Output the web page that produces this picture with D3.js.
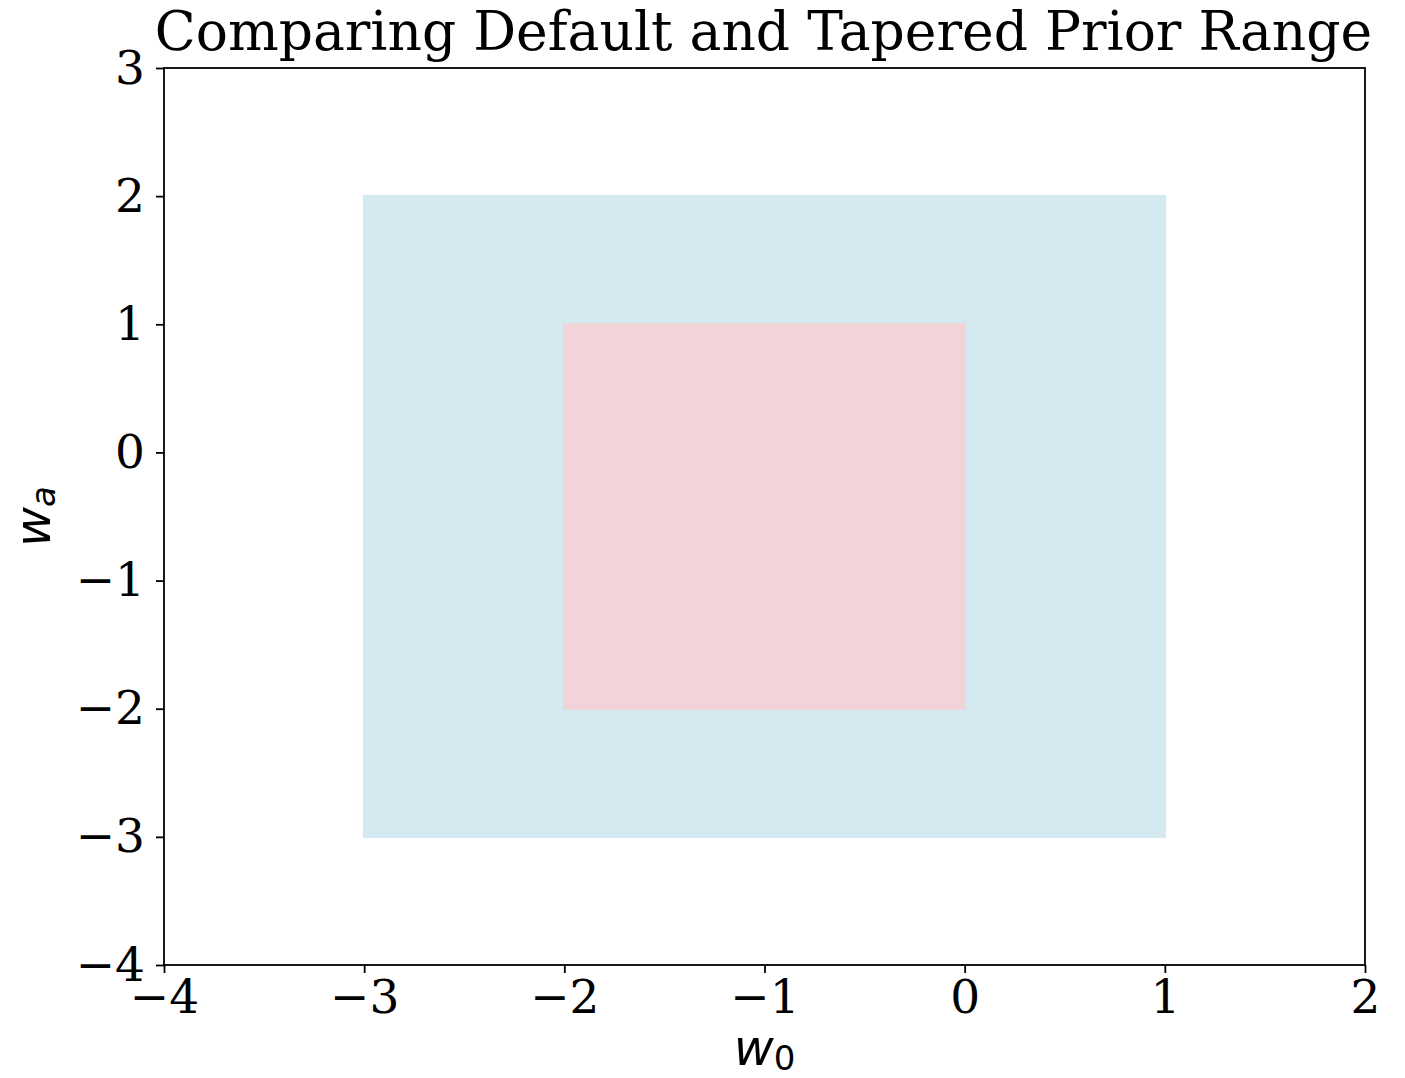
<!DOCTYPE html>
<html>
<head>
<meta charset="utf-8">
<script src="https://cdn.jsdelivr.net/npm/d3@7"></script>
<style>
  html, body { margin: 0; padding: 0; background: #fff; }
  svg { display: block; }
</style>
</head>
<body>
<script>
// Prior ranges in the (w0, wa) plane
const rangeNames = ["Default", "Tapered"];
const w0Min = [-3, -2];
const w0Max = [1, 0];
const waMin = [-3, -2];
const waMax = [2, 1];
const rangeColors = ["#d4eaf0", "#f0d4d7"];

const xTicks = [-4, -3, -2, -1, 0, 1, 2];
const yTicks = [-4, -3, -2, -1, 0, 1, 2, 3];
const titleText = "Comparing Default and Tapered Prior Range";

const W = 1405, H = 1078;
const margin = { left: 164, top: 68, right: W - 1365, bottom: H - 965 };

const svg = d3.select("body").append("svg")
  .attr("width", W).attr("height", H);

const x = d3.scaleLinear().domain([-4, 2]).range([margin.left, W - margin.right]);
const y = d3.scaleLinear().domain([-4, 3]).range([H - margin.bottom, margin.top]);

// Range rectangles (edge drawn in the face colour)
svg.append("g").selectAll("rect")
  .data(rangeNames.map((n, i) => ({ n, i })))
  .join("rect")
  .attr("x", d => x(w0Min[d.i]))
  .attr("y", d => y(waMax[d.i]))
  .attr("width", d => x(w0Max[d.i]) - x(w0Min[d.i]))
  .attr("height", d => y(waMin[d.i]) - y(waMax[d.i]))
  .attr("fill", d => rangeColors[d.i])
  .attr("stroke", d => rangeColors[d.i])
  .attr("stroke-width", 2.5);

const fmt = d => (d < 0 ? "\u2212" + Math.abs(d) : String(d));
const tickFont = "DejaVu Serif";

// Axes
const xAxis = svg.append("g")
  .attr("transform", `translate(0,${H - margin.bottom})`)
  .call(d3.axisBottom(x).tickValues(xTicks).tickFormat(fmt).tickSize(8).tickPadding(7));
const yAxis = svg.append("g")
  .attr("transform", `translate(${margin.left},0)`)
  .call(d3.axisLeft(y).tickValues(yTicks).tickFormat(fmt).tickSize(8).tickPadding(11));

[xAxis, yAxis].forEach(a => {
  a.select(".domain").remove();
  a.selectAll(".tick line").attr("stroke", "#000").attr("stroke-width", 1.8);
  a.selectAll(".tick text")
    .attr("fill", "#000")
    .style("font-family", tickFont)
    .style("font-size", "47px");
});

// Frame
svg.append("rect")
  .attr("x", x(-4)).attr("y", y(3))
  .attr("width", x(2) - x(-4)).attr("height", y(-4) - y(3))
  .attr("fill", "none").attr("stroke", "#000").attr("stroke-width", 1.8);

// Title
svg.append("text")
  .attr("x", (x(-4) + x(2)) / 2 - 1).attr("y", 50)
  .attr("text-anchor", "middle")
  .style("font-family", tickFont).style("font-size", "53.5px")
  .attr("fill", "#000")
  .text(titleText);

// Axis labels (italic w with subscripts)
function mathLabel(g, sub) {
  const t = g.append("text")
    .attr("text-anchor", "middle")
    .style("font-family", "DejaVu Sans")
    .style("font-size", "49px")
    .attr("fill", "#000");
  t.append("tspan").style("font-style", "italic").text("w");
  t.append("tspan").attr("dy", 5).style("font-size", "34px")
    .style("font-style", sub === "a" ? "italic" : "normal").text(sub);
  return t;
}
mathLabel(svg.append("g").attr("transform", `translate(${(x(-4) + x(2)) / 2},1065)`), "0");
mathLabel(svg.append("g").attr("transform", `translate(50,${(y(-4) + y(3)) / 2}) rotate(-90)`), "a");
</script>
</body>
</html>
